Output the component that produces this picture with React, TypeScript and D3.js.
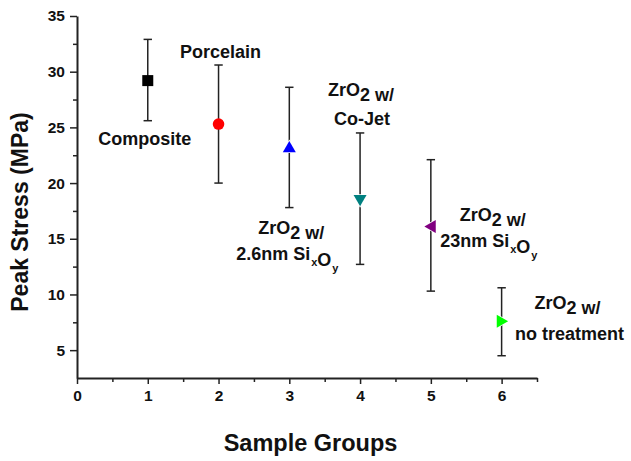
import { useRef, useEffect } from 'react';
import * as d3 from 'd3';

const WIDTH = 631;
const HEIGHT = 461;
const MARGIN = { top: 16, right: 94, bottom: 83, left: 77 };

// data
const groups = [1, 2, 3, 4, 5, 6];
const means = [29.2, 25.3, 23.2, 18.5, 16.1, 7.6];
const upper = [32.9, 30.6, 28.6, 24.5, 22.1, 10.6];
const lower = [25.6, 20.0, 17.8, 12.7, 10.3, 4.5];
const yTicks = [5, 10, 15, 20, 25, 30, 35];
const xTicks = [0, 1, 2, 3, 4, 5, 6];

// label lines per group: [text, subscript?] pieces
type Piece = { t: string; sub?: 'big' | 'small' };
const labels: Piece[][][] = [
  [[{ t: 'Composite' }]],
  [[{ t: 'Porcelain' }]],
  [[{ t: 'ZrO' }, { t: '2', sub: 'big' }, { t: ' w/' }], [{ t: '2.6nm Si' }, { t: 'x', sub: 'small' }, { t: 'O' }, { t: 'y', sub: 'small' }]],
  [[{ t: 'ZrO' }, { t: '2', sub: 'big' }, { t: ' w/' }], [{ t: 'Co-Jet' }]],
  [[{ t: 'ZrO' }, { t: '2', sub: 'big' }, { t: ' w/' }], [{ t: '23nm Si' }, { t: 'x', sub: 'small' }, { t: 'O' }, { t: 'y', sub: 'small' }]],
  [[{ t: 'ZrO' }, { t: '2', sub: 'big' }, { t: ' w/' }], [{ t: 'no treatment' }]],
];

// styles and label placement (pixel offsets from the point)
const colors = ['#000000', '#ff0000', '#0000ff', '#008080', '#800080', '#00ff00'];
const symbols = ['square', 'circle', 'up', 'down', 'left', 'right'];
const labelOffsets = [
  [{ dx: -3, dy: 64 }],
  [{ dx: 2, dy: -66 }],
  [{ dx: 2, dy: 87 }, { dx: -2, dy: 113 }],
  [{ dx: 1, dy: -104 }, { dx: 2, dy: -75 }],
  [{ dx: 62, dy: -6 }, { dx: 58, dy: 20 }],
  [{ dx: 66, dy: -12 }, { dx: 68, dy: 19 }],
];

const FONT = '"Liberation Sans", Arial, sans-serif';

function markerPath(kind: string): string {
  const s = 6.5;
  switch (kind) {
    case 'up': return `M0,${-s} L${s},${s * 0.75} L${-s},${s * 0.75}Z`;
    case 'down': return `M0,${s} L${s},${-s * 0.75} L${-s},${-s * 0.75}Z`;
    case 'left': return `M${-s},0 L${s * 0.75},${-s} L${s * 0.75},${s}Z`;
    case 'right': return `M${s},0 L${-s * 0.75},${-s} L${-s * 0.75},${s}Z`;
    default: return '';
  }
}

export default function App() {
  const svgRef = useRef<SVGSVGElement>(null);

  useEffect(() => {
    const svg = d3.select(svgRef.current);
    svg.selectAll('*').remove();

    const w = WIDTH - MARGIN.left - MARGIN.right;
    const h = HEIGHT - MARGIN.top - MARGIN.bottom;
    const g = svg.append('g').attr('transform', `translate(${MARGIN.left},${MARGIN.top})`);

    const x = d3.scaleLinear().domain([0, 6.5]).range([0, w]);
    const y = d3.scaleLinear().domain([2.5, 35]).range([h, 0]);

    // minor ticks
    g.append('g').attr('transform', `translate(0,${h})`)
      .call(d3.axisBottom(x).tickValues(d3.range(0.5, 6.51, 1)).tickSize(4).tickFormat(() => ''))
      .call(a => a.select('.domain').remove());
    g.append('g')
      .call(d3.axisLeft(y).tickValues(d3.range(7.5, 33, 5)).tickSize(4).tickFormat(() => ''))
      .call(a => a.select('.domain').remove());

    const xAxis = g.append('g').attr('transform', `translate(0,${h})`)
      .call(d3.axisBottom(x).tickValues(xTicks).tickFormat(d3.format('d')).tickSize(6).tickSizeOuter(0).tickPadding(6));
    const yAxis = g.append('g')
      .call(d3.axisLeft(y).tickValues(yTicks).tickFormat(d3.format('d')).tickSize(7).tickSizeOuter(0).tickPadding(5));

    [xAxis, yAxis].forEach(a => {
      a.selectAll('text').attr('font-family', FONT).attr('font-weight', 'bold')
        .attr('font-size', 15.5).attr('fill', '#111');
    });
    g.selectAll('.domain').attr('stroke', '#222').attr('stroke-width', 2);
    g.selectAll('.tick line').attr('stroke', '#222').attr('stroke-width', 1.5);

    // axis titles
    svg.append('text')
      .attr('x', MARGIN.left + x(3.3)).attr('y', 451)
      .attr('text-anchor', 'middle').attr('font-family', FONT).attr('font-weight', 'bold')
      .attr('font-size', 23.5).attr('fill', '#111').text('Sample Groups');
    svg.append('text')
      .attr('transform', `translate(28,${MARGIN.top + y(17.4)}) rotate(-90)`)
      .attr('text-anchor', 'middle').attr('font-family', FONT).attr('font-weight', 'bold')
      .attr('font-size', 23).attr('fill', '#111').text('Peak Stress (MPa)');

    groups.forEach((gv, i) => {
      const cx = x(gv);
      const cy = y(means[i]);
      const cap = 4.2;
      const bar = g.append('g').attr('stroke', '#222').attr('stroke-width', 1.5);
      bar.append('line').attr('x1', cx).attr('x2', cx).attr('y1', y(upper[i])).attr('y2', y(lower[i]));
      bar.append('line').attr('x1', cx - cap).attr('x2', cx + cap).attr('y1', y(upper[i])).attr('y2', y(upper[i]));
      bar.append('line').attr('x1', cx - cap).attr('x2', cx + cap).attr('y1', y(lower[i])).attr('y2', y(lower[i]));

      const kind = symbols[i];
      if (kind === 'square') {
        g.append('rect').attr('x', cx - 5.5).attr('y', cy - 5.5).attr('width', 11).attr('height', 11)
          .attr('fill', colors[i]);
      } else if (kind === 'circle') {
        g.append('circle').attr('cx', cx).attr('cy', cy).attr('r', 5.8).attr('fill', colors[i]);
      } else {
        g.append('path').attr('transform', `translate(${cx},${cy})`).attr('d', markerPath(kind))
          .attr('fill', colors[i]).attr('stroke', '#fff').attr('stroke-width', 1.5)
          .attr('paint-order', 'stroke');
      }

      labels[i].forEach((line, j) => {
        const off = labelOffsets[i][j];
        const t = g.append('text')
          .attr('x', cx + off.dx).attr('y', cy + off.dy)
          .attr('text-anchor', 'middle').attr('font-family', FONT).attr('font-weight', 'bold')
          .attr('font-size', 18).attr('fill', '#111');
        line.forEach(p => {
          if (p.sub === 'big') {
            t.append('tspan').attr('dy', 5).text(p.t);
            t.append('tspan').attr('dy', -5).text('');
          } else if (p.sub === 'small') {
            t.append('tspan').attr('dx', 1).attr('dy', 6).attr('font-size', 11).text(p.t);
            t.append('tspan').attr('dx', 1).attr('dy', -6).text('');
          } else {
            t.append('tspan').text(p.t);
          }
        });
      });
    });
  }, []);

  return (
    <svg ref={svgRef} width={WIDTH} height={HEIGHT}
      style={{ position: 'absolute', left: 0, top: 0, background: '#fff' }} />
  );
}
